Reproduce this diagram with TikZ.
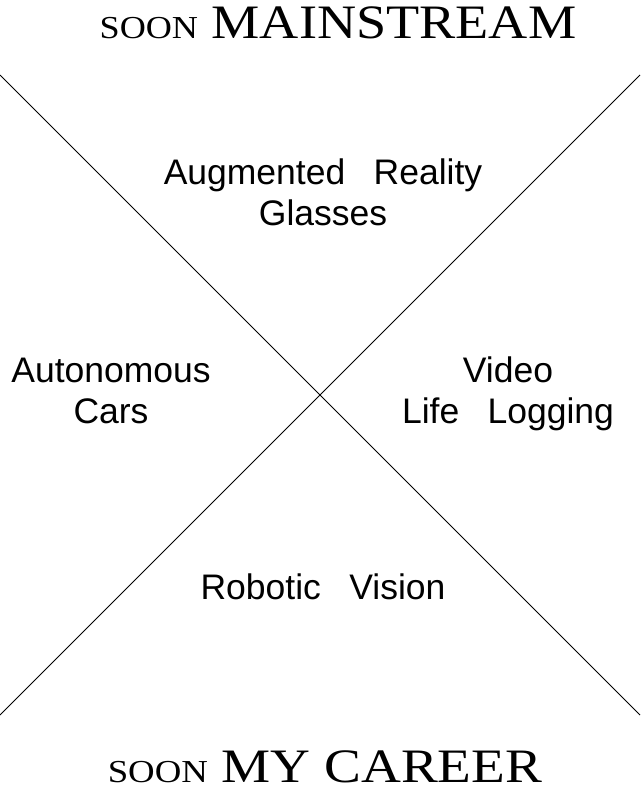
\documentclass[tikz,border=0pt]{standalone}
\usepackage{fontspec}
\setmainfont{Liberation Serif}
\newfontfamily\labelfont{Liberation Sans}
\begin{document}
\begin{tikzpicture}[x=1pt,y=-1pt,
  axis/.style={draw=black,line width=0.9pt},
  heading/.style={inner sep=0pt,anchor=base,font=\fontsize{48}{52}\selectfont},
  item/.style={inner sep=0pt,anchor=base,align=center,
    font=\labelfont\fontsize{35.5}{41}\selectfont}]
  \useasboundingbox (0,0) rectangle (640,792);
  % the two diagonals
  \coordinate (tl) at (0,75);
  \coordinate (br) at (640,715);
  \coordinate (bl) at (0,715);
  \coordinate (tr) at (640,75);
  \draw[axis] (tl) -- (br);
  \draw[axis] (bl) -- (tr);
  % headings
  \node[heading] (top) at (338,38)
    {\scalebox{1.13}[1]{{\fontsize{32}{36}\selectfont SOON} MAINSTREAM}};
  \node[heading] (bottom) at (325,782)
    {\scalebox{1.15}[1]{{\fontsize{32}{36}\selectfont SOON} MY CAREER}};
  % quadrant labels (anchored at the baseline of their last line)
  \node[item] (ar) at (323,225) {Augmented\hspace{0.8em}Reality\\Glasses};
  \node[item] (cars) at (111,423) {Autonomous\\Cars};
  \node[item] (video) at (508,423) {Video\\Life\hspace{0.8em}Logging};
  \node[item] (robot) at (323,599) {Robotic\hspace{0.8em}Vision};
\end{tikzpicture}
\end{document}
